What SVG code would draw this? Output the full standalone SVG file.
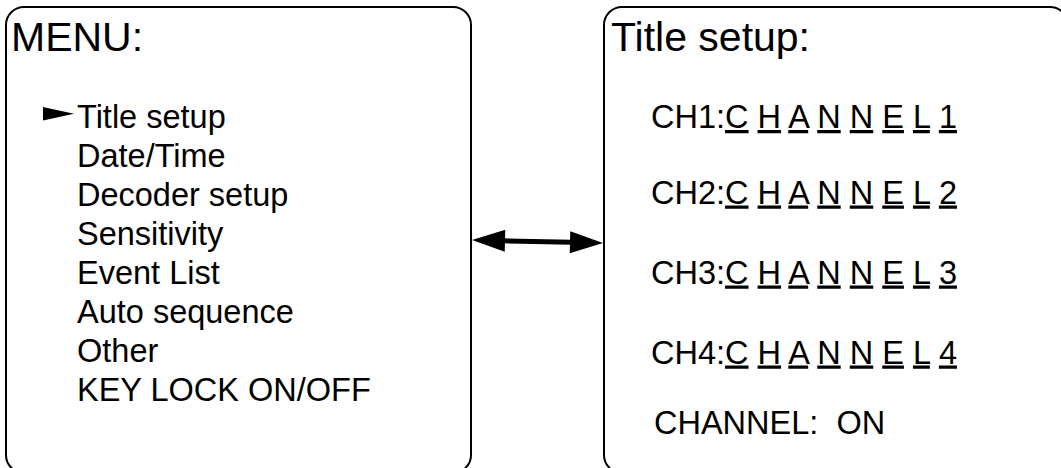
<svg xmlns="http://www.w3.org/2000/svg" width="1061" height="468" viewBox="0 0 1061 468">
<style>
.box{fill:#fff;stroke:#000;stroke-width:2}
text{font-family:"Liberation Sans",Arial,sans-serif;fill:#000}
.title{font-size:41px}
.item{font-size:32.5px}
.u{text-decoration:underline}
.conn{stroke:#000;stroke-width:5;fill:none}
</style>
<defs>
<marker id="ah" markerUnits="userSpaceOnUse" markerWidth="40" markerHeight="30" viewBox="0 -15 40 30" refX="1" refY="0" orient="auto-start-reverse" overflow="visible">
<path d="M0,-11 L33,0 L0,11 z" fill="#000"/>
</marker>
</defs>
<rect width="1061" height="468" fill="#fff"/>
<g id="menu">
<rect class="box" x="6" y="7" width="465" height="466" rx="18" ry="18"/>
<text class="title" x="11" y="51">MENU:</text>
<polygon points="43,107 74,113.8 43,120.6" fill="#000"/>
<text class="item" x="77" y="127.5">Title setup</text>
<text class="item" x="77" y="166.5">Date/Time</text>
<text class="item" x="77" y="205.5">Decoder setup</text>
<text class="item" x="77" y="244.5">Sensitivity</text>
<text class="item" x="77" y="283.5">Event List</text>
<text class="item" x="77" y="322.5">Auto sequence</text>
<text class="item" x="77" y="361.5">Other</text>
<text class="item" x="77" y="400.5">KEY LOCK ON/OFF</text>
</g>
<g id="title-setup">
<rect class="box" x="604" y="7" width="464" height="466" rx="18" ry="18"/>
<text class="title" x="611" y="51">Title setup:</text>
<text class="item" x="651" y="128">CH1:<tspan class="u">C</tspan> <tspan class="u">H</tspan> <tspan class="u">A</tspan> <tspan class="u">N</tspan> <tspan class="u">N</tspan> <tspan class="u">E</tspan> <tspan class="u">L</tspan> <tspan class="u">1</tspan></text>
<text class="item" x="651" y="203.5">CH2:<tspan class="u">C</tspan> <tspan class="u">H</tspan> <tspan class="u">A</tspan> <tspan class="u">N</tspan> <tspan class="u">N</tspan> <tspan class="u">E</tspan> <tspan class="u">L</tspan> <tspan class="u">2</tspan></text>
<text class="item" x="651" y="283.5">CH3:<tspan class="u">C</tspan> <tspan class="u">H</tspan> <tspan class="u">A</tspan> <tspan class="u">N</tspan> <tspan class="u">N</tspan> <tspan class="u">E</tspan> <tspan class="u">L</tspan> <tspan class="u">3</tspan></text>
<text class="item" x="651" y="363.5">CH4:<tspan class="u">C</tspan> <tspan class="u">H</tspan> <tspan class="u">A</tspan> <tspan class="u">N</tspan> <tspan class="u">N</tspan> <tspan class="u">E</tspan> <tspan class="u">L</tspan> <tspan class="u">4</tspan></text>
<text class="item" x="654" y="433.5" xml:space="preserve">CHANNEL:  ON</text>
</g>
<g id="connectors">
<line class="conn" x1="504" y1="240.8" x2="571" y2="242.3" marker-start="url(#ah)" marker-end="url(#ah)"/>
</g>
</svg>
